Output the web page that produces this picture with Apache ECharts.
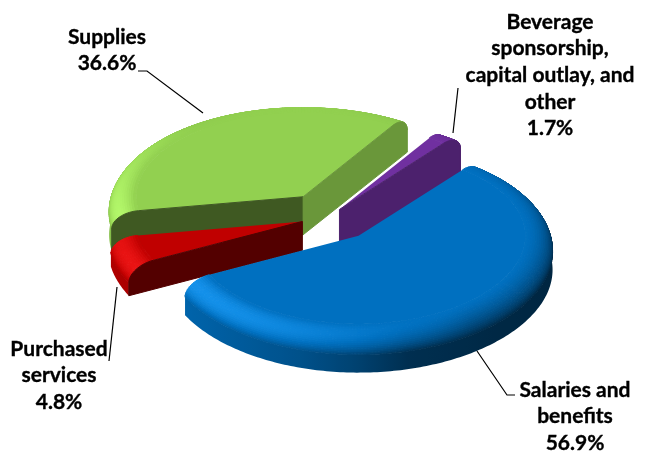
<!DOCTYPE html>
<html><head><meta charset="utf-8">
<style>html,body{margin:0;padding:0;background:#fff}#c{width:645px;height:451px}</style>
<script src="https://cdn.jsdelivr.net/npm/echarts@6/dist/echarts.min.js"></script>
</head><body><div id="c"></div>
<script>
// Data
const categories = [
  ['Salaries and', 'benefits'],
  ['Purchased', 'services'],
  ['Supplies'],
  ['Beverage', 'sponsorship,', 'capital outlay, and', 'other']
];
const shares = [56.9, 4.8, 36.6, 1.7];
const colors = ['#0070c0', '#c00000', '#92d050', '#7030a0'];
// Layout
const firstAngle = 38.6;
const explode = [47, 28, 47, 18];
const depths = [34, 29, 38, 42];
const drawOrder = [2, 3, 1, 0];
const labelCenters = [[575, 390], [59, 349], [107, 37], [550, 22]];
const leaders = [
  [[477, 351], [507, 395], [515, 395]],
  [[109, 361], [117, 287]],
  [[138, 71], [147, 71], [203, 113]],
  [[458, 88], [453, 133]]
];
const CX = 329, CY = 217, R = 194, K = 0.516, P = 0.026, R0 = 0.86, DROP = 16;
const BANDS = 18, STEP = 1;

const total = shares.reduce((a, b) => a + b, 0);
const rad = d => d * Math.PI / 180;
let acc = firstAngle;
const spans = shares.map(s => { const a = acc; acc += s / total * 360; return [a, acc]; });

function shade(hex, f) {
  const n = parseInt(hex.slice(1), 16), c = [n >> 16 & 255, n >> 8 & 255, n & 255];
  const boost = f > 1 ? 1 + (f - 1) * 0.5 : f;
  const add = f > 1 ? (f - 1) * 80 : 0;
  return 'rgb(' + c.map(x => Math.min(255, Math.round(x * boost + add))).join(',') + ')';
}
function interp(tab, x) {
  if (x <= tab[0][0]) return tab[0][1];
  for (let i = 1; i < tab.length; i++) if (x <= tab[i][0]) {
    const a = tab[i - 1], b = tab[i];
    return a[1] + (b[1] - a[1]) * (x - a[0]) / (b[0] - a[0]);
  }
  return tab[tab.length - 1][1];
}
const wallTable = [[-1, .92], [-.3, .72], [0, .58], [.25, .42], [.7, .36], [1, .34]];
const wallF = u => interp(wallTable, u);

function makeProj(i) {
  const b = rad((spans[i][0] + spans[i][1]) / 2);
  const ex = CX + explode[i] * Math.sin(b), ey = CY - explode[i] * Math.cos(b) * K;
  const f = (r, deg, drop) => {
    const u = r * Math.sin(rad(deg)), v = -r * Math.cos(rad(deg)), s = 1 / (1 - P * v);
    return [ex + R * u, ey + R * K * v * s + drop];
  };
  f.ex = ex;
  return f;
}
const prof = t => { const a = t * Math.PI / 2; return [R0 + (1 - R0) * Math.sin(a), DROP * (1 - Math.cos(a))]; };
const poly = (points, fill) => ({ type: 'polygon', shape: { points }, style: { fill, stroke: fill, lineWidth: 1 } });

function sliceChildren(i) {
  const [a0, a1] = spans[i], P3 = makeProj(i), base = colors[i], D = depths[i], kids = [];
  const angs = [];
  const n = Math.max(2, Math.ceil((a1 - a0) / STEP));
  for (let k = 0; k <= n; k++) angs.push(a0 + (a1 - a0) * k / n);
  // outer wall: one shape with a horizontal gradient
  const front = angs.filter(a => -Math.cos(rad(a)) >= -0.1);
  if (front.length > 1) {
    const stops = [];
    for (let s = 0; s <= 40; s++) stops.push({ offset: s / 40, color: shade(base, wallF(-1 + s / 20)) });
    const pts = front.map(a => P3(1, a, DROP)).concat(front.slice().reverse().map(a => P3(1, a, D)));
    kids.push({ type: 'polygon', shape: { points: pts }, style: {
      fill: { type: 'linear', x: P3.ex - R, y: 0, x2: P3.ex + R, y2: 0, global: true, colorStops: stops } } });
  }
  // bevel, outer band first so the back rim folds away
  for (let b = BANDS - 1; b >= 0; b--) {
    const t0 = b / BANDS, t1 = (b + 1) / BANDS, [r0, d0] = prof(t0), [r1, d1] = prof(t1), tm = (t0 + t1) / 2;
    for (let k = 0; k < n; k++) {
      const m = (angs[k] + angs[k + 1]) / 2, u = Math.sin(rad(m)), v = -Math.cos(rad(m));
      const h = Math.max(0, -u * 0.8 + v * 0.6);
      const w = wallF(u), back = v < 0 ? v * v : 0, target = w + (1 - w) * back;
      const f = 1 + (target - 1) * Math.pow(tm, 1.5) + 0.28 * h * Math.sin(Math.PI * tm);
      kids.push(poly([P3(r0, angs[k], d0), P3(r0, angs[k + 1], d0), P3(r1, angs[k + 1], d1), P3(r1, angs[k], d1)], shade(base, f)));
    }
  }
  // flat top
  kids.push({ type: 'polygon', shape: { points: [P3(0, a0, 0)].concat(angs.map(a => P3(R0, a, 0))) }, style: { fill: base } });
  // straight walls facing the viewer
  [[a0, a0 - 90], [a1, a1 + 90]].forEach(([a, nrm]) => {
    const u = Math.sin(rad(nrm)), v = -Math.cos(rad(nrm));
    if (v <= 0) return;
    const top = [P3(0, a, 0)];
    for (let b = 0; b <= BANDS; b++) { const [r, d] = prof(b / BANDS); top.push(P3(r, a, d)); }
    const f = u < 0.45 ? 0.43 : 0.43 + (u - 0.45) * 0.75;
    kids.push(poly(top.concat([P3(1, a, D), P3(0, a, D)]), shade(base, f)));
  });
  return kids;
}
function labelChildren(i) {
  const lines = categories[i].concat([shares[i].toFixed(1) + '%']);
  const kids = lines.map((t, j) => ({
    type: 'text', x: labelCenters[i][0], y: labelCenters[i][1] + j * 26.6,
    style: { text: t, fill: '#000', stroke: '#000', lineWidth: 0.35, font: 'bold 21px Lato', textAlign: 'center', textVerticalAlign: 'middle' }
  }));
  kids.push({ type: 'polyline', shape: { points: leaders[i] }, style: { stroke: '#000', lineWidth: 1.2, fill: 'none' } });
  return kids;
}
const chart = echarts.init(document.getElementById('c'), null, { renderer: 'canvas' });
chart.setOption({
  animation: false,
  backgroundColor: '#fff',
  series: [
    { type: 'custom', coordinateSystem: 'none', silent: true, data: drawOrder.map(i => [i, shares[i]]),
      renderItem: (p, api) => ({ type: 'group', children: sliceChildren(api.value(0)) }) },
    { type: 'custom', coordinateSystem: 'none', silent: true, data: drawOrder.map(i => [i, shares[i]]),
      renderItem: (p, api) => ({ type: 'group', children: labelChildren(api.value(0)) }) }
  ]
});
</script></body></html>
